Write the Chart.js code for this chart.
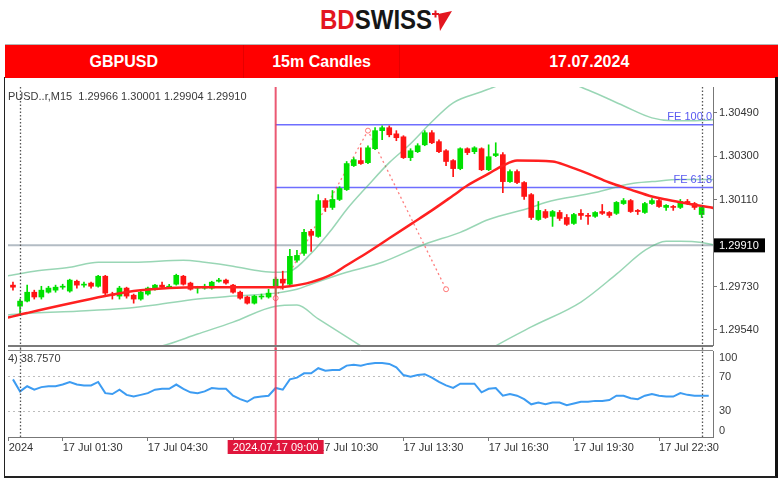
<!DOCTYPE html>
<html>
<head>
<meta charset="utf-8">
<title>GBPUSD 15m Candles</title>
<script src="https://cdn.jsdelivr.net/npm/chart.js@4.4.1/dist/chart.umd.min.js"></script>
<style>
  body { margin:0; width:780px; height:480px; background:#fff; position:relative; overflow:hidden; font-family:"Liberation Sans", Arial, sans-serif; }
  #logo { position:absolute; left:320px; top:7px; font:bold 27px/27px "Liberation Sans", Arial, sans-serif; transform:scaleX(0.89); transform-origin:0 0; white-space:nowrap; }
  #logo .bd { color:#e3161f; }
  #logo .sw { color:#161616; }
  #mark { position:absolute; left:431px; top:9px; }
  #banner { position:absolute; left:5px; top:44px; width:773px; height:33px; background:#ff0000; border-top:1px solid #b5b5b5; display:flex; }
  #banner div { color:#fff; font:bold 16px/33px "Liberation Sans", Arial, sans-serif; text-align:center; }
  #banner div + div { border-left:1px solid #e40000; }
  #frame { position:absolute; left:4px; top:77px; width:770px; height:399px; border-left:1px solid #222; border-right:3px solid #111; border-bottom:2px solid #222; }
  canvas { position:absolute; left:0; }
  #main { top:80px; }
  #rsi { top:348px; }
</style>
</head>
<body>
<div id="logo"><span class="bd">BD</span><span class="sw">SWISS</span></div>
<svg id="mark" width="22" height="24" viewBox="0 0 22 24">
  <polygon points="7,5 21,2 9,22" fill="#e3161f"/>
  <rect x="1" y="4" width="7" height="2" fill="#e3161f"/>
  <rect x="3.5" y="1.5" width="2" height="7" fill="#e3161f"/>
</svg>
<div id="banner">
  <div style="width:238px">GBPUSD</div>
  <div style="width:156px">15m Candles</div>
  <div style="width:378px">17.07.2024</div>
</div>
<div id="frame"></div>
<canvas id="main" width="780" height="270"></canvas>
<canvas id="rsi" width="780" height="132"></canvas>
<script>
// 15 minute candles, index 0 = 16 Jul 23:45, index 1 = 17 Jul 00:00
const opens = [1.29736,1.29644,1.29666,1.29705,1.29684,1.29705,1.29714,1.29727,1.29710,1.29753,
  1.29736,1.29745,1.29731,1.29775,1.29697,1.29688,1.29723,1.29692,1.29675,1.29697,
  1.29718,1.29736,1.29727,1.29740,1.29775,1.29745,1.29723,1.29723,1.29723,1.29753,
  1.29758,1.29736,1.29705,1.29684,1.29657,1.29684,1.29684,1.29727,1.29762,1.29740,
  1.29845,1.29875,1.29971,1.29949,1.30106,1.30076,1.30111,1.30154,1.30259,1.30281,
  1.30272,1.30333,1.30412,1.30425,1.30398,1.30385,1.30294,1.30320,1.30350,1.30403,
  1.30364,1.30324,1.30281,1.30246,1.30333,1.30320,1.30333,1.30241,1.30303,1.30307,
  1.30189,1.30233,1.30185,1.30132,1.30023,1.30058,1.30037,1.30054,1.30032,1.30006,
  1.30050,1.30041,1.30037,1.30058,1.30054,1.30050,1.30093,1.30106,1.30063,1.30054,
  1.30093,1.30106,1.30076,1.30080,1.30076,1.30102,1.30093,1.30045];
const highs = [1.29749,1.29675,1.29736,1.29714,1.29731,1.29731,1.29736,1.29740,1.29762,1.29758,
  1.29749,1.29749,1.29779,1.29779,1.29705,1.29731,1.29727,1.29697,1.29710,1.29727,
  1.29740,1.29749,1.29740,1.29784,1.29779,1.29749,1.29731,1.29740,1.29753,1.29766,
  1.29762,1.29740,1.29710,1.29688,1.29692,1.29697,1.29718,1.29771,1.29797,1.29893,
  1.29888,1.29980,1.29980,1.30132,1.30115,1.30150,1.30167,1.30277,1.30294,1.30337,
  1.30346,1.30425,1.30433,1.30433,1.30412,1.30390,1.30333,1.30355,1.30412,1.30412,
  1.30372,1.30329,1.30285,1.30337,1.30337,1.30342,1.30337,1.30350,1.30359,1.30316,
  1.30241,1.30241,1.30189,1.30137,1.30102,1.30067,1.30063,1.30063,1.30045,1.30050,
  1.30067,1.30050,1.30058,1.30089,1.30058,1.30102,1.30115,1.30111,1.30067,1.30098,
  1.30115,1.30111,1.30089,1.30085,1.30111,1.30111,1.30098,1.30080];
const lows = [1.29714,1.29609,1.29662,1.29675,1.29675,1.29701,1.29705,1.29718,1.29705,1.29723,
  1.29727,1.29723,1.29727,1.29688,1.29675,1.29675,1.29679,1.29657,1.29670,1.29692,
  1.29714,1.29723,1.29723,1.29736,1.29736,1.29714,1.29701,1.29718,1.29718,1.29749,
  1.29740,1.29701,1.29675,1.29653,1.29653,1.29675,1.29679,1.29692,1.29718,1.29736,
  1.29836,1.29866,1.29884,1.29945,1.30058,1.30067,1.30106,1.30150,1.30255,1.30264,
  1.30268,1.30329,1.30372,1.30385,1.30368,1.30290,1.30281,1.30316,1.30346,1.30355,
  1.30316,1.30259,1.30211,1.30241,1.30307,1.30311,1.30237,1.30237,1.30298,1.30141,
  1.30185,1.30180,1.30111,1.30023,1.30019,1.30028,1.29993,1.30019,1.29997,1.30002,
  1.30023,1.30002,1.30032,1.30045,1.30032,1.30045,1.30089,1.30054,1.30045,1.30050,
  1.30089,1.30076,1.30063,1.30063,1.30071,1.30089,1.30067,1.30032];
const closes = [1.29727,1.29666,1.29705,1.29684,1.29714,1.29723,1.29727,1.29731,1.29758,1.29736,
  1.29740,1.29731,1.29775,1.29701,1.29692,1.29723,1.29688,1.29675,1.29705,1.29723,
  1.29736,1.29727,1.29731,1.29779,1.29740,1.29718,1.29727,1.29731,1.29749,1.29758,
  1.29745,1.29705,1.29679,1.29657,1.29688,1.29688,1.29701,1.29762,1.29745,1.29862,
  1.29866,1.29967,1.29954,1.30106,1.30076,1.30111,1.30159,1.30268,1.30285,1.30268,
  1.30337,1.30412,1.30425,1.30394,1.30381,1.30294,1.30324,1.30346,1.30403,1.30359,
  1.30320,1.30277,1.30246,1.30333,1.30316,1.30337,1.30241,1.30298,1.30311,1.30189,
  1.30233,1.30185,1.30124,1.30032,1.30063,1.30032,1.30058,1.30028,1.30002,1.30045,
  1.30041,1.30037,1.30054,1.30050,1.30041,1.30098,1.30106,1.30058,1.30058,1.30093,
  1.30106,1.30080,1.30085,1.30076,1.30102,1.30093,1.30076,1.30076];

// moving average and bollinger bands, read at a few bar positions
const maIdx = [-1, 2, 13, 17, 22, 26, 31, 37, 39, 42, 45, 47, 50, 53, 56, 59, 62, 64, 67, 69, 71, 76, 78, 81, 84, 87, 90, 92, 95, 99];
const maVal = [1.29592,1.29614,1.29688,1.29710,1.29723,1.29727,1.29727,1.29727,1.29731,1.29749,
  1.29784,1.29823,1.29880,1.29941,1.30002,1.30063,1.30128,1.30172,1.30224,1.30259,
  1.30281,1.30277,1.30259,1.30224,1.30185,1.30154,1.30124,1.30111,1.30093,1.30072];
const upperIdx = [-1, 3, 8, 12, 17, 24, 27, 31, 35, 37, 39, 42, 45, 47, 50, 53, 56, 59, 62, 66, 69, 73, 77, 81, 86, 90, 93, 95, 99];
const upperVal = [1.29775,1.29797,1.29814,1.29836,1.29836,1.29845,1.29836,1.29819,1.29797,1.29792,
  1.29797,1.29875,1.29984,1.30067,1.30172,1.30272,1.30355,1.30451,1.30534,1.30582,
  1.30616,1.30643,1.30634,1.30590,1.30521,1.30468,1.30455,1.30455,1.30460];
const midIdx = [-1, 3, 9, 16, 20, 26, 31, 37, 40, 42, 47, 52, 58, 63, 67, 73, 75, 82, 87, 90, 94, 99];
const midVal = [1.29605,1.29614,1.29622,1.29635,1.29649,1.29675,1.29688,1.29701,1.29718,1.29740,
  1.29792,1.29836,1.29915,1.29967,1.30023,1.30076,1.30098,1.30141,1.30180,1.30189,1.30198,1.30198];
const lowerIdx = [-1, 8, 16, 21, 26, 31, 37, 40, 43, 49, 55, 60, 64, 68, 73, 80, 85, 89, 92, 94, 97, 99];
const lowerVal = [1.29391,1.29404,1.29439,1.29470,1.29522,1.29574,1.29644,1.29649,1.29588,1.29470,
  1.29348,1.29326,1.29391,1.29470,1.29553,1.29662,1.29784,1.29888,1.29928,1.29928,1.29923,1.29910];

// RSI(14), one value per bar (last value is the forming bar)
const rsi = [67,53,59,55,58,59,59,61,64,61,60,60,64,51,50,55,49,47,49,51,
  55,56,56,61,56,52,51,53,57,56,56,48,44,41,46,47,48,57,55,67,
  69,74,74,80,77,78,78,83,84,83,85,86,86,85,81,72,70,72,73,69,
  64,60,57,62,62,62,52,56,57,48,50,48,44,38,40,38,40,40,37,39,
  41,41,42,42,43,48,48,45,44,48,50,48,47,47,51,49,48,48,48];

// drawn objects
const fiboIdx = [37, 50, 61];
const fiboVal = [1.29679, 1.30412, 1.29718];
const fe100 = 1.30438, fe618 = 1.30163;
const hLine = 1.29910;
const cursorIdx = 37;
const daySeparators = [1, 97];

const priceTicks = [1.29540, 1.29730, 1.30110, 1.30300, 1.30490];
const timeTicks = [-0.6, 7, 19, 31, 43, 55, 67, 79, 91];
const timeLabels = ['2024', '17 Jul 01:30', '17 Jul 04:30', '17 Jul 07:30', '17 Jul 10:30',
  '17 Jul 13:30', '17 Jul 16:30', '17 Jul 19:30', '17 Jul 22:30'];
const rsiLevels = [100, 70, 30, 0];

const GREEN = '#00e000', RED = '#ff1414', BAND = 'rgba(70,180,120,0.55)';
const FONT = '"Liberation Sans", Arial, sans-serif';
const XMIN = -0.7, XMAX = 98.6;

const bars = opens.map((o, i) => i);
const candleColors = bars.map(i => closes[i] >= opens[i] ? GREEN : RED);
const pts = (xs, ys) => xs.map((x, i) => ({x: x, y: ys[i]}));

function bandSet(xs, ys, color, width, order) {
  return {type: 'line', data: pts(xs, ys), borderColor: color, borderWidth: width,
    pointRadius: 0, cubicInterpolationMode: 'monotone', order: order};
}

const mainOverlay = {
  id: 'mainOverlay',
  afterDatasetsDraw(chart) {
    const {ctx, chartArea: a, scales: {x, y}} = chart;
    ctx.save();
    ctx.strokeStyle = '#555';
    ctx.lineWidth = 1.3;
    ctx.setLineDash([1.5, 2]);
    daySeparators.forEach(v => {
      const px = Math.round(x.getPixelForValue(v)) + 0.5;
      ctx.beginPath(); ctx.moveTo(px, a.top); ctx.lineTo(px, chart.height); ctx.stroke();
    });
    ctx.setLineDash([]);
    ctx.strokeStyle = 'rgba(232,60,90,0.85)';
    ctx.lineWidth = 2;
    const cx = x.getPixelForValue(cursorIdx);
    ctx.beginPath(); ctx.moveTo(cx, a.top); ctx.lineTo(cx, chart.height); ctx.stroke();

    // fibo labels
    ctx.font = '11px ' + FONT;
    ctx.fillStyle = '#5858f0';
    ctx.textAlign = 'right';
    ctx.textBaseline = 'bottom';
    ctx.fillText('FE 100.0', a.right - 1, y.getPixelForValue(fe100) - 2);
    ctx.fillText('FE 61.8', a.right - 1, y.getPixelForValue(fe618) - 2);

    // pane bottom border
    ctx.strokeStyle = '#7a7a7a';
    ctx.lineWidth = 2;
    ctx.beginPath(); ctx.moveTo(a.left, a.bottom + 1); ctx.lineTo(a.right, a.bottom + 1); ctx.stroke();
    ctx.restore();
  },
  afterDraw(chart) {
    const {ctx, chartArea: a, scales: {y}} = chart;
    ctx.save();
    ctx.font = '11px ' + FONT;
    ctx.textBaseline = 'middle';
    ctx.textAlign = 'left';
    ctx.fillStyle = '#3a3a3a';
    ctx.fillText('PUSD..r,M15  1.29966 1.30001 1.29904 1.29910', 8, 17);
    const py = y.getPixelForValue(hLine);
    ctx.fillStyle = '#000';
    ctx.fillRect(a.right + 1, py - 7, 51, 14);
    ctx.fillStyle = '#fff';
    ctx.fillText(hLine.toFixed(5), a.right + 6, py + 0.5);
    ctx.restore();
  }
};

new Chart(document.getElementById('main'), {
  type: 'bar',
  data: {
    datasets: [
      bandSet(maIdx, maVal, '#ff2020', 2.5, 0),
      {type: 'bar', data: bars.map(i => ({x: i, y: [opens[i], closes[i]]})), backgroundColor: candleColors,
        barThickness: 5, minBarLength: 1, grouped: false, order: 1},
      {type: 'bar', data: bars.map(i => ({x: i, y: [lows[i], highs[i]]})), backgroundColor: candleColors,
        barThickness: 1, grouped: false, order: 2},
      bandSet(upperIdx, upperVal, BAND, 1.5, 3),
      bandSet(midIdx, midVal, BAND, 1.5, 3),
      bandSet(lowerIdx, lowerVal, BAND, 1.5, 3),
      {type: 'line', data: pts(fiboIdx, fiboVal), borderColor: 'rgba(255,70,70,0.7)', borderWidth: 1.3,
        borderDash: [2, 3], pointRadius: 2.5, pointBackgroundColor: '#fff', pointBorderColor: 'rgba(255,70,70,0.7)',
        pointBorderWidth: 1, tension: 0, order: 4},
      {type: 'line', data: pts([cursorIdx, XMAX], [fe100, fe100]), borderColor: 'rgba(85,85,255,0.85)',
        borderWidth: 1.5, pointRadius: 0, order: 5},
      {type: 'line', data: pts([cursorIdx, XMAX], [fe618, fe618]), borderColor: 'rgba(85,85,255,0.85)',
        borderWidth: 1.5, pointRadius: 0, order: 5},
      {type: 'line', data: pts([XMIN, XMAX], [hLine, hLine]), borderColor: '#b3bcc4',
        borderWidth: 2, pointRadius: 0, order: 6}
    ]
  },
  options: {
    responsive: false,
    animation: false,
    events: [],
    layout: {padding: {left: 8, top: 7, right: 0, bottom: 4}},
    plugins: {legend: {display: false}, tooltip: {enabled: false}},
    scales: {
      x: {type: 'linear', min: XMIN, max: XMAX, display: false, offset: false},
      y: {
        position: 'right', min: 1.29474, max: 1.30603,
        afterFit: s => { s.width = 67; s.paddingTop = 0; s.paddingBottom = 0; },
        afterBuildTicks: s => { s.ticks = priceTicks.map(v => ({value: v})); },
        ticks: {callback: v => v.toFixed(5), color: '#333', padding: 2, font: {size: 11, family: FONT}},
        grid: {drawOnChartArea: false, tickLength: 4, color: '#777'},
        border: {color: '#777'}
      }
    }
  },
  plugins: [mainOverlay]
});

const rsiOverlay = {
  id: 'rsiOverlay',
  afterDatasetsDraw(chart) {
    const {ctx, chartArea: a, scales: {x}} = chart;
    ctx.save();
    ctx.strokeStyle = '#555';
    ctx.lineWidth = 1.3;
    ctx.setLineDash([1.5, 2]);
    daySeparators.forEach(v => {
      const px = Math.round(x.getPixelForValue(v)) + 0.5;
      ctx.beginPath(); ctx.moveTo(px, 0); ctx.lineTo(px, a.bottom); ctx.stroke();
    });
    ctx.setLineDash([]);
    ctx.strokeStyle = 'rgba(232,60,90,0.85)';
    ctx.lineWidth = 2;
    const cx = x.getPixelForValue(cursorIdx);
    ctx.beginPath(); ctx.moveTo(cx, 0); ctx.lineTo(cx, a.bottom + 3); ctx.stroke();
    ctx.strokeStyle = '#8a8a8a';
    ctx.lineWidth = 1;
    ctx.beginPath(); ctx.moveTo(a.left, a.top - 0.5); ctx.lineTo(a.right, a.top - 0.5); ctx.stroke();
    ctx.restore();
  },
  afterDraw(chart) {
    const {ctx, chartArea: a, scales: {x, y}} = chart;
    ctx.save();
    ctx.font = '11px ' + FONT;
    ctx.textBaseline = 'middle';
    ctx.textAlign = 'left';
    ctx.fillStyle = '#3a3a3a';
    ctx.fillText('4) 38.7570', 8, 11);
    rsiLevels.forEach(v => {
      const py = Math.min(Math.max(y.getPixelForValue(v), a.top + 7), a.bottom - 6);
      ctx.fillText(String(v), a.right + 6, py);
    });
    // cursor time label
    const cx = x.getPixelForValue(cursorIdx);
    ctx.fillStyle = '#e0163c';
    ctx.fillRect(cx - 48, a.bottom + 3, 96, 14);
    ctx.fillStyle = '#fff';
    ctx.textAlign = 'center';
    ctx.fillText('2024.07.17 09:00', cx, a.bottom + 10.5);
    ctx.restore();
  }
};

new Chart(document.getElementById('rsi'), {
  type: 'line',
  data: {
    datasets: [{data: rsi.map((v, i) => ({x: i, y: v})), borderColor: '#3d9cf2', borderWidth: 2,
      pointRadius: 0, tension: 0}]
  },
  options: {
    responsive: false,
    animation: false,
    events: [],
    layout: {padding: {left: 8, top: 3, right: 0, bottom: 0}},
    plugins: {legend: {display: false}, tooltip: {enabled: false}},
    scales: {
      x: {
        type: 'linear', min: XMIN, max: XMAX, offset: false,
        afterFit: s => { s.height = 43; },
        afterBuildTicks: s => { s.ticks = timeTicks.map(v => ({value: v})); },
        ticks: {autoSkip: false, maxRotation: 0, align: 'start', padding: 0, color: '#333',
          font: {size: 11, family: FONT}, callback: (v, i) => timeLabels[i]},
        grid: {drawOnChartArea: false, tickLength: 4, color: '#777'},
        border: {color: '#777'}
      },
      y: {
        position: 'right', min: 0, max: 100,
        afterFit: s => { s.width = 67; },
        afterBuildTicks: s => { s.ticks = [30, 70].map(v => ({value: v})); },
        ticks: {display: false},
        grid: {color: '#bdbdbd', drawTicks: false},
        border: {color: '#777', dash: [2, 3]}
      }
    }
  },
  plugins: [rsiOverlay]
});
</script>
</body>
</html>
